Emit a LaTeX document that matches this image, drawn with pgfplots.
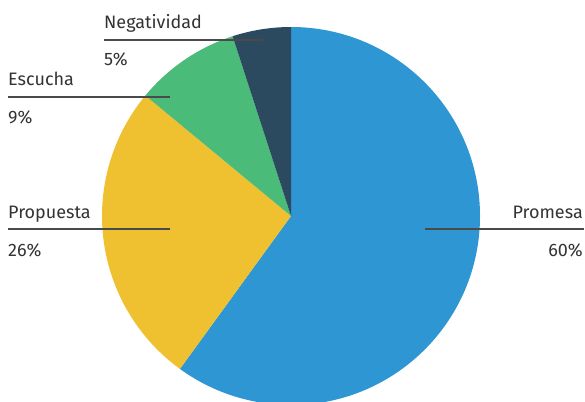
\documentclass[border=0pt]{standalone}
\usepackage{pgfplots}
\pgfplotsset{compat=1.18}
\usepackage{fontspec}
\setmainfont{Fira Sans}

\definecolor{cPromesa}{HTML}{2E96D3}
\definecolor{cPropuesta}{HTML}{EFC130}
\definecolor{cEscucha}{HTML}{4BBB7A}
\definecolor{cNegatividad}{HTML}{2C4A5F}
\definecolor{txt}{HTML}{333333}
\definecolor{rule}{HTML}{4A4A4A}

\begin{document}
\begin{tikzpicture}
\begin{axis}[
    scale only axis,
    width=585pt, height=401pt,
    xmin=0, xmax=585, ymin=0, ymax=401,
    y dir=reverse,
    hide axis,
    clip=true,
]
% slices, clockwise from the top: value (percent) / colour
\def\s{90}
\foreach \v/\c in {60/cPromesa, 26/cPropuesta, 9/cEscucha, 5/cNegatividad}{
    \pgfmathsetmacro\e{\s-3.6*\v}
    \edef\temp{\noexpand\fill[\c] (axis cs:291,216) -- ++(\s:189pt)
        arc[start angle=\s, end angle=\e, radius=189pt] -- cycle;}
    \temp
    \global\let\s\e
}
% callouts
\begin{scope}[font=\fontsize{18}{20}\selectfont, text=txt]
\draw[rule, line width=1.2pt] (axis cs:104,40) -- (axis cs:263,40);
\node[anchor=base west, inner sep=0] at (axis cs:104,29) {Negatividad};
\node[anchor=base west, inner sep=0] at (axis cs:104,66) {5\%};

\draw[rule, line width=1.2pt] (axis cs:8,97) -- (axis cs:170,97);
\node[anchor=base west, inner sep=0] at (axis cs:8,86) {Escucha};
\node[anchor=base west, inner sep=0] at (axis cs:8,123) {9\%};

\draw[rule, line width=1.2pt] (axis cs:8,229) -- (axis cs:170,229);
\node[anchor=base west, inner sep=0] at (axis cs:8,218) {Propuesta};
\node[anchor=base west, inner sep=0] at (axis cs:8,256) {26\%};

\draw[rule, line width=1.2pt] (axis cs:425,229) -- (axis cs:584,229);
\node[anchor=base east, inner sep=0] at (axis cs:583,218) {Promesa};
\node[anchor=base east, inner sep=0] at (axis cs:583,256) {60\%};
\end{scope}
\end{axis}
\pgfresetboundingbox
\path (0,0) rectangle (585pt,401pt);
\end{tikzpicture}
\end{document}
